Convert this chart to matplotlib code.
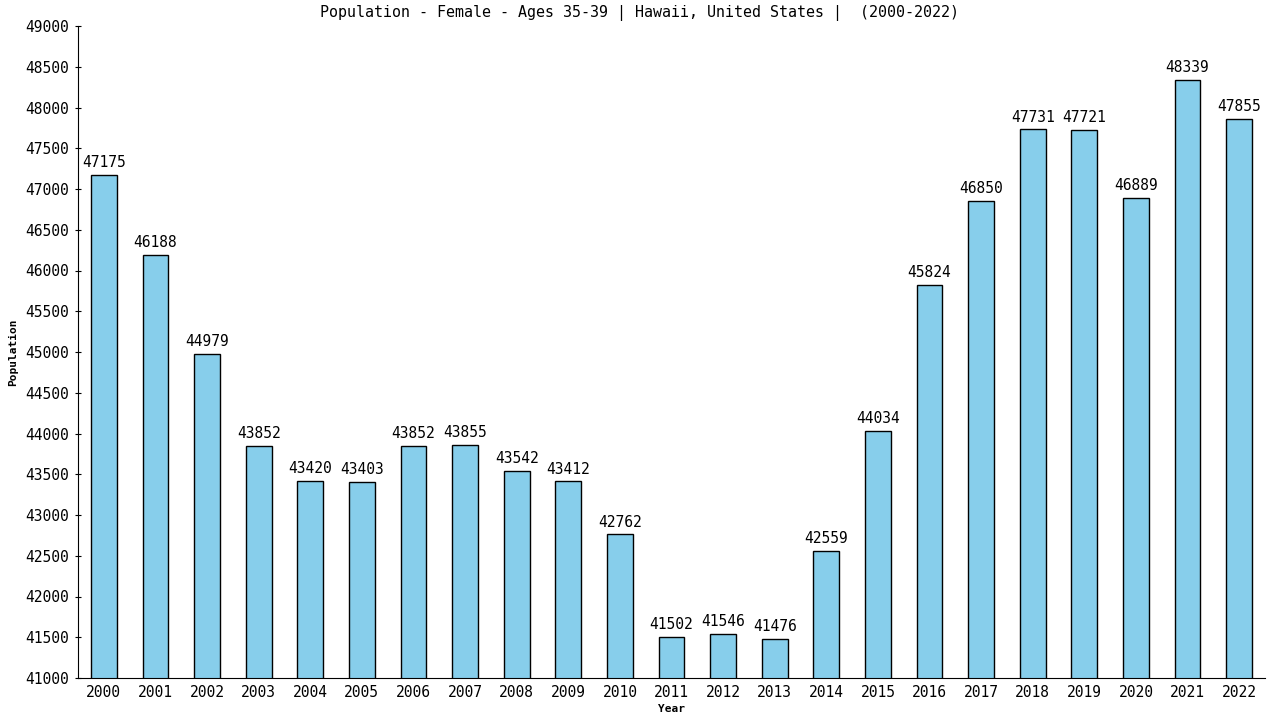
import matplotlib
matplotlib.use("Agg")
import matplotlib.pyplot as plt

# данные с графика
years = [str(y) for y in range(2000, 2023)]
population = [47175, 46188, 44979, 43852, 43420, 43403, 43852, 43855, 43542, 43412,
              42762, 41502, 41546, 41476, 42559, 44034, 45824, 46850, 47731, 47721,
              46889, 48339, 47855]
y_ticks = list(range(41000, 49001, 500))

plt.rcParams['font.family'] = 'DejaVu Sans Mono'

fig = plt.figure(figsize=(12.8, 7.2), dpi=100)
ax = fig.add_axes([78 / 1280, 42 / 720, 1187 / 1280, 652 / 720])

x = range(len(years))
bars = ax.bar(x, population, width=0.5, color='#87ceeb', edgecolor='black', linewidth=1)
for xi, v in zip(x, population):
    ax.text(xi, v + 60, str(v), ha='center', va='bottom', fontsize=10.5)

ax.set_xlim(-0.5, len(years) - 0.5)
ax.set_ylim(41000, 49000)
ax.set_yticks(y_ticks)
ax.set_yticklabels([str(t) for t in y_ticks], fontsize=10.5)
ax.set_xticks(list(x))
ax.set_xticklabels(years, fontsize=10.5)
ax.tick_params(axis='x', length=0, pad=5)
ax.tick_params(axis='y', length=5, direction='inout', pad=4)

for side in ['top', 'right']:
    ax.spines[side].set_visible(False)

ax.set_xlabel('Year', fontsize=8, fontweight='bold', labelpad=3)
ax.set_ylabel('Population', fontsize=8, fontweight='bold', labelpad=5)
fig.text(0.5, 1 - 13 / 720,
         'Population - Female - Ages 35-39 | Hawaii, United States |  (2000-2022)',
         ha='center', va='center', fontsize=10.8)

fig.savefig('out.png', dpi=100)
